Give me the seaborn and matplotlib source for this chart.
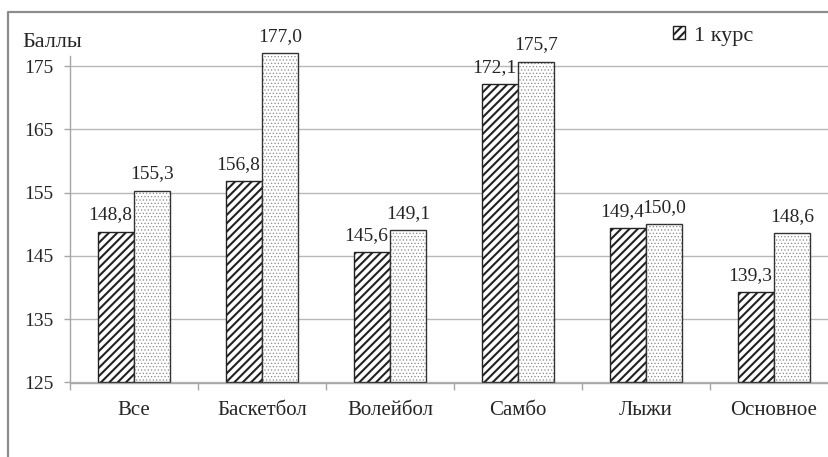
import matplotlib
matplotlib.use("Agg")
import matplotlib.pyplot as plt
from matplotlib.lines import Line2D
from matplotlib.patches import Rectangle
import numpy as np
import pandas as pd
import seaborn as sns

# Average scores by sport section, two study years
categories = ["Все", "Баскетбол", "Волейбол", "Самбо", "Лыжи", "Основное"]
course1 = [148.8, 156.8, 145.6, 172.1, 149.4, 139.3]
course2 = [155.3, 177.0, 149.1, 175.7, 150.0, 148.6]
series_names = ["1 курс", "2 курс"]
y_ticks = [125, 135, 145, 155, 165, 175]
y_title = "Баллы"

df = pd.DataFrame({
    "Вид": categories * 2,
    "Курс": [series_names[0]] * len(categories) + [series_names[1]] * len(categories),
    "Баллы": course1 + course2,
})

sns.set_style("white")
plt.rcParams["font.family"] = ["Liberation Serif", "DejaVu Serif"]
plt.rcParams["hatch.linewidth"] = 1.5

W, H = 829, 457
fig = plt.figure(figsize=(W / 100, H / 100), dpi=100)
ax = fig.add_axes([70 / W, (H - 382.5) / H, 768 / W, (382.5 - 56) / H])

sns.barplot(data=df, x="Вид", y="Баллы", hue="Курс", order=categories,
            hue_order=series_names, palette=["white", "white"], saturation=1,
            width=0.57, errorbar=None, legend=False, ax=ax)

y_min, y_max = 125, 176.6
dark = "#222222"
hatched, dotted = ax.containers[0], ax.containers[1]

# bars rise from the bottom of the value axis
for cont in (hatched, dotted):
    for bar, val in zip(cont, cont.datavalues):
        bar.set_y(y_min)
        bar.set_height(val - y_min)
        bar.set_clip_on(False)

for bar in hatched:
    bar.set_facecolor("white")
    bar.set_edgecolor(dark)
    bar.set_linewidth(1.0)
    bar.set_hatch("////")
for bar in dotted:
    bar.set_facecolor("white")
    bar.set_edgecolor("#8a8a8a")
    bar.set_linewidth(0.0)
    bar.set_hatch(".....")
    if hasattr(bar, "set_hatch_linewidth"):
        bar.set_hatch_linewidth(0.5)
    # outline drawn over the stippled fill
    ax.add_patch(Rectangle(bar.get_xy(), bar.get_width(), bar.get_height(),
                           fill=False, edgecolor="#333333", linewidth=1.0,
                           clip_on=False, zorder=bar.get_zorder() + 0.1))

label_shift = {0: -4.0, 1: 0.0}  # horizontal nudge (points) per series
for i, (cont, vals) in enumerate(zip([hatched, dotted], [course1, course2])):
    anns = ax.bar_label(cont, labels=[f"{v:.1f}".replace(".", ",") for v in vals],
                        padding=6, fontsize=14, clip_on=False,
                        annotation_clip=False)
    for ann in anns:
        ann.xyann = (label_shift[i], 6)

axis_gray = "#a6a6a6"
ax.set_xlim(-0.5, len(categories) - 0.5)
ax.set_ylim(y_min, y_max)
ax.set_yticks(y_ticks)
ax.yaxis.grid(True, color="#b8b8b8", linewidth=1.0)
ax.xaxis.grid(False)
ax.set_axisbelow(True)
for s in ["top", "right"]:
    ax.spines[s].set_visible(False)
for s in ["left", "bottom"]:
    ax.spines[s].set_color(axis_gray)
    ax.spines[s].set_linewidth(1.0)
ax.tick_params(axis="y", left=True, length=4.5, width=1, color=axis_gray,
               pad=7.5, labelsize=14, direction="out")
ax.set_xticks(np.arange(-0.5, len(categories), 1), minor=True)
ax.tick_params(axis="x", which="minor", bottom=True, length=5, width=1,
               color=axis_gray, direction="out")
ax.tick_params(axis="x", which="major", bottom=True, length=0, pad=13.5,
               labelsize=15)
ax.set_xlabel("")
ax.set_ylabel("")

fig.text(22 / W, 1 - 47 / H, y_title, fontsize=16, ha="left", va="baseline")

fig.legend(handles=[hatched[0]], labels=[series_names[0]], loc="upper left",
           bbox_to_anchor=(673 / W, 1 - 26 / H), frameon=False, fontsize=16,
           handlelength=0.55, handleheight=0.55, handletextpad=0.4,
           borderpad=0, borderaxespad=0)

# chart area frame
fig.add_artist(Line2D([8.5 / W, 8.5 / W, 1.0], [0, 1 - 11.5 / H, 1 - 11.5 / H],
                      transform=fig.transFigure, color="#8c8c8c", linewidth=1.6))

fig.savefig("out.png", dpi=100)
